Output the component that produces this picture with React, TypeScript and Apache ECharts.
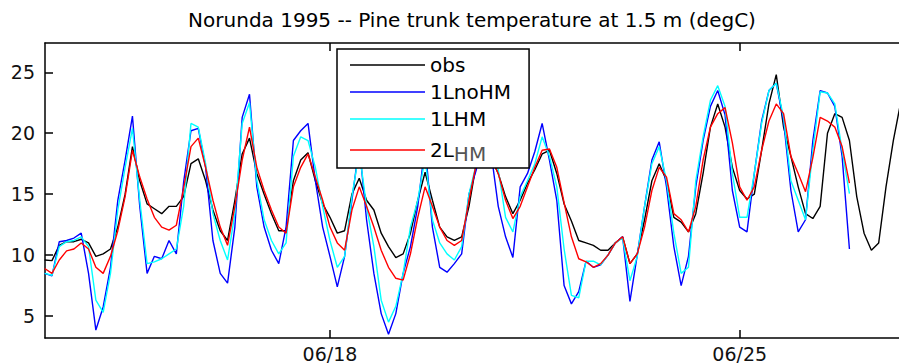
import React, { useEffect, useRef } from "react";
import * as echarts from "echarts";

// Time axis: days of June 1995, sampled every 3 hours starting 06/13 03:00
const START_DAY = 13.125;
const STEP_DAY = 0.125;

const obs = [
  9.6, 9.55, 10.8, 11.1, 11.1, 11.3, 11.0, 9.9, 10.1, 10.5, 12.3, 15.0, 18.9, 16.1, 14.2, 13.8,
  13.4, 14.0, 14.0, 14.8, 17.5, 17.9, 16.1, 13.7, 12.0, 11.2, 14.5, 18.3, 19.6, 16.7, 15.0, 13.4,
  12.0, 12.0, 16.1, 17.8, 18.4, 16.1, 14.2, 13.1, 11.8, 12.0, 15.0, 16.3, 14.5, 13.7, 11.8, 10.7,
  9.8, 10.1, 11.8, 14.5, 16.8, 14.5, 12.3, 11.5, 11.2, 11.5, 14.0, 17.5, 19.0, 18.0, 16.7, 14.8,
  13.4, 14.5, 15.9, 17.0, 18.3, 18.6, 16.7, 14.2, 12.8, 11.2, 11.0, 10.8, 10.4, 10.4, 11.0, 11.5,
  9.3, 10.1, 12.9, 16.1, 17.5, 16.1, 13.1, 12.7, 11.9, 13.4, 16.7, 20.5, 22.4, 20.5, 17.2, 15.3,
  14.6, 15.0, 18.6, 22.4, 24.8, 20.5, 18.1, 15.6, 13.4, 13.0, 14.0, 20.0, 21.6, 21.3, 19.4, 14.8,
  11.8, 10.4, 11.0, 15.6, 19.4, 22.5,
];

const lnoHM = [
  8.5, 8.3, 11.1, 11.2, 11.4, 11.8, 8.5, 3.85, 5.75, 9.0, 14.5, 17.8, 21.4, 14.0, 8.5, 9.9,
  9.7, 11.2, 10.1, 16.0, 20.2, 20.4, 17.2, 11.2, 8.5, 7.7, 12.3, 21.3, 23.2, 15.6, 12.3, 10.4,
  9.3, 12.3, 19.4, 20.2, 20.8, 16.1, 12.3, 9.9, 7.4, 9.9, 14.5, 19.0, 12.9, 8.5, 5.2, 3.5,
  5.2, 8.5, 10.7, 14.0, 19.0, 12.3, 9.0, 8.6, 9.3, 10.1, 15.0, 17.0, 20.5, 18.5, 14.0, 11.5,
  9.8, 15.6, 16.7, 18.5, 20.8, 17.8, 14.5, 7.5, 6.0, 7.0, 9.5, 9.0, 9.2, 10.0, 11.0, 11.5,
  6.2, 10.0, 14.0, 17.8, 19.3, 15.6, 10.7, 7.5, 9.9, 15.6, 19.4, 22.2, 23.5, 21.5, 15.3, 12.3,
  11.9, 16.7, 21.0, 23.5, 24.1, 21.0, 15.3, 11.9, 12.9, 19.4, 23.5, 23.3, 22.2, 18.1, 10.5,
];

const lHM = [
  8.5, 8.35, 10.7, 11.1, 11.2, 11.5, 10.7, 6.3, 5.3, 8.5, 13.7, 17.2, 20.4, 14.5, 9.3, 9.45,
  9.7, 10.1, 10.5, 14.0, 20.8, 20.5, 17.5, 13.4, 11.2, 9.6, 13.4, 20.8, 22.5, 16.1, 12.9, 11.2,
  10.1, 11.0, 18.1, 19.7, 19.4, 17.2, 14.0, 11.2, 9.0, 9.9, 14.8, 18.5, 14.0, 10.7, 6.3, 4.5,
  5.8, 8.5, 12.3, 14.5, 18.0, 12.9, 11.0, 10.1, 9.6, 10.7, 15.0, 17.5, 20.0, 18.5, 17.0, 13.1,
  11.9, 14.8, 16.1, 17.5, 19.7, 18.1, 15.6, 10.5, 6.7, 6.5, 9.5, 9.5, 9.2, 10.0, 11.0, 11.4,
  7.9, 9.9, 14.0, 17.5, 18.9, 16.1, 11.8, 8.5, 9.0, 16.1, 19.7, 22.7, 23.9, 22.2, 16.7, 13.1,
  13.1, 16.7, 20.8, 23.5, 24.1, 21.3, 16.1, 14.5, 12.9, 18.6, 23.4, 23.3, 22.4, 18.6, 15.05,
];

const twoLHM = [
  8.9, 8.5, 9.6, 10.35, 10.5, 11.0, 10.5, 9.0, 8.5, 9.9, 12.0, 14.8, 18.6, 16.4, 14.6, 13.1,
  12.3, 12.05, 12.45, 15.5, 18.9, 19.6, 17.2, 14.5, 12.3, 10.8, 14.0, 17.8, 20.5, 17.2, 15.3, 13.7,
  12.3, 11.8, 15.6, 17.2, 18.3, 16.4, 14.5, 12.3, 11.0, 10.4, 13.7, 15.6, 14.0, 12.3, 10.4, 9.0,
  8.1, 7.95, 10.1, 13.1, 15.6, 14.0, 12.3, 11.2, 10.8, 11.2, 14.5, 17.5, 18.5, 18.0, 16.7, 14.5,
  13.0, 14.0, 15.6, 17.2, 18.6, 18.7, 17.2, 14.3, 11.5, 9.7, 9.45, 9.0, 9.3, 10.0, 11.0, 11.5,
  9.3, 10.1, 12.3, 15.3, 17.2, 16.4, 13.4, 12.9, 11.9, 14.0, 17.8, 20.5, 21.6, 22.1, 19.2, 15.6,
  14.5, 15.6, 18.6, 21.0, 22.4, 21.6, 18.1, 16.7, 15.2, 18.0, 21.3, 21.0, 20.5, 18.9, 15.9,
];

const seriesNames = ["obs", "1LnoHM", "1LHM", "2LHM"];
const seriesColors = ["#000000", "#0000ff", "#00ffff", "#ff0000"];
const seriesValues = [obs, lnoHM, lHM, twoLHM];

const xTickDays = [18, 25];
const xTickLabels = ["06/18", "06/25"];
const yTicks = [5, 10, 15, 20, 25];

const TITLE = "Norunda 1995 -- Pine trunk temperature at 1.5 m (degC)";
const FONT = "DejaVu Sans";

function toPairs(vals: number[]) {
  return vals.map((v, i) => [START_DAY + i * STEP_DAY, v]);
}

export default function App() {
  const ref = useRef<HTMLDivElement>(null);
  useEffect(() => {
    document.body.style.margin = "0";
    if (!ref.current) return;
    const chart = echarts.init(ref.current, null, { renderer: "svg" });
    const axisLine = { show: true, lineStyle: { color: "#000", width: 1.5 } };
    chart.setOption({
      animation: false,
      backgroundColor: "#fff",
      title: {
        text: TITLE,
        left: 472,
        textAlign: "center",
        top: 10,
        padding: 0,
        textStyle: { fontFamily: FONT, fontSize: 20, fontWeight: "normal", color: "#000" },
      },
      grid: { left: 45, top: 43, width: 860, height: 295, containLabel: false },
      xAxis: [
        {
          type: "value",
          position: "bottom",
          min: 13.131,
          max: 27.722,
          axisLine,
          splitLine: { show: false },
          axisTick: { show: true, inside: true, length: 8, customValues: xTickDays, lineStyle: { color: "#000", width: 1.5 } },
          axisLabel: {
            show: true,
            customValues: xTickDays,
            margin: 6,
            fontFamily: FONT,
            fontSize: 19,
            color: "#111",
            formatter: (v: number) => xTickLabels[xTickDays.indexOf(Math.round(v))] ?? "",
          },
        },
        {
          type: "value",
          position: "top",
          min: 13.131,
          max: 27.722,
          axisLine,
          splitLine: { show: false },
          axisTick: { show: true, inside: true, length: 8, customValues: xTickDays, lineStyle: { color: "#000", width: 1.5 } },
          axisLabel: { show: false },
        },
      ],
      yAxis: {
        type: "value",
        min: 3.2,
        max: 27.4,
        axisLine,
        splitLine: { show: false },
        axisTick: { show: true, inside: true, length: 8, customValues: yTicks, lineStyle: { color: "#000", width: 1.5 } },
        axisLabel: { show: true, customValues: yTicks, margin: 10, fontFamily: FONT, fontSize: 19, color: "#111" },
      },
      legend: {
        orient: "vertical",
        left: 337,
        top: 49,
        icon: "rect",
        itemWidth: 75,
        itemHeight: 1.5,
        itemGap: 7,
        padding: [6, 18, 4, 13],
        backgroundColor: "#fff",
        borderColor: "#000",
        borderWidth: 1.5,
        borderRadius: 0,
        selectedMode: false,
        data: seriesNames,
        formatter: (name: string) => (name === "2LHM" ? "{main|2L}{sub|HM}" : name),
        textStyle: {
          fontFamily: FONT,
          fontSize: 20,
          color: "#000",
          lineHeight: 20,
          rich: {
            main: { fontFamily: FONT, fontSize: 20, color: "#000", lineHeight: 20, verticalAlign: "middle" },
            sub: { fontFamily: FONT, fontSize: 20, color: "#555", lineHeight: 12, padding: [8, 0, 0, 0], verticalAlign: "middle" },
          },
        },
        z: 10,
      },
      series: seriesNames.map((name, k) => ({
        name,
        type: "line",
        xAxisIndex: 0,
        yAxisIndex: 0,
        data: toPairs(seriesValues[k]),
        showSymbol: false,
        symbol: "none",
        clip: true,
        color: seriesColors[k],
        lineStyle: { color: seriesColors[k], width: 1.4 },
        z: 2 + k,
      })),
    });
    return () => chart.dispose();
  }, []);
  return <div ref={ref} style={{ width: 899, height: 363 }} />;
}
